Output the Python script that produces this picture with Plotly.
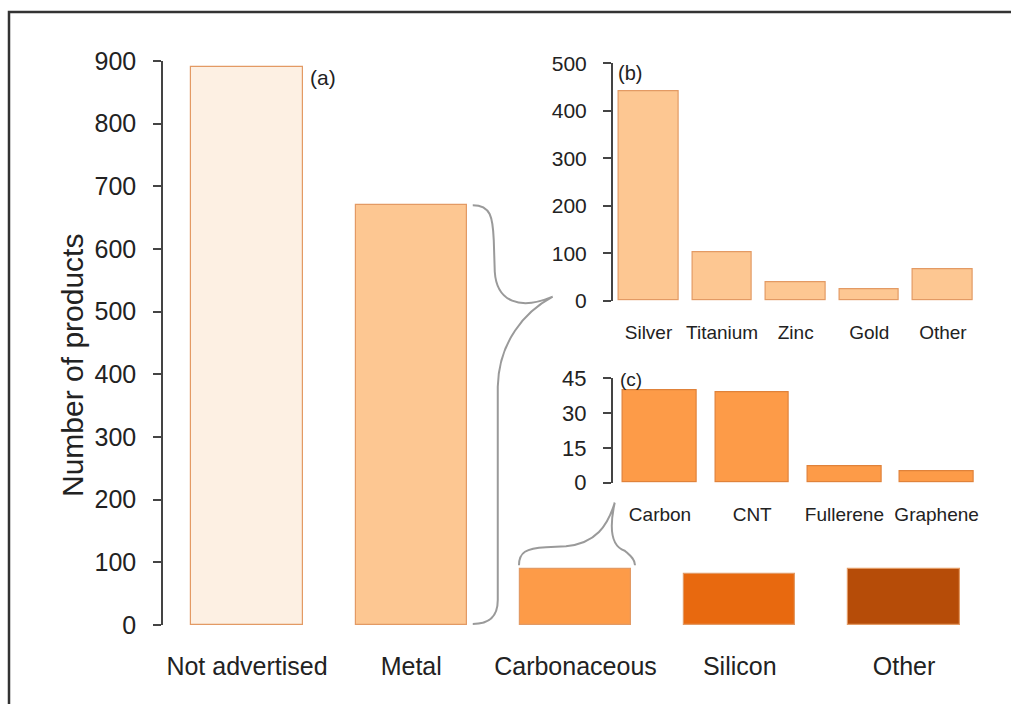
import plotly.graph_objects as go

# ---- data -------------------------------------------------------------
main_categories = ["Not advertised", "Metal", "Carbonaceous", "Silicon", "Other"]
main_counts = [890, 670, 89, 81, 89]
main_colors = ["#fdf0e3", "#fdc792", "#fd9b48", "#e8690f", "#b64c08"]
main_ticks = [0, 100, 200, 300, 400, 500, 600, 700, 800, 900]

metal_categories = ["Silver", "Titanium", "Zinc", "Gold", "Other"]
metal_counts = [440, 102, 38, 24, 67]
metal_ticks = [0, 100, 200, 300, 400, 500]

carbon_categories = ["Carbon", "CNT", "Fullerene", "Graphene"]
carbon_counts = [40, 39, 7, 5]
carbon_ticks = [0, 15, 30, 45]

# ---- page geometry (pixels) ------------------------------------------
W, H = 1011, 704
FONT = "Liberation Sans, Arial, sans-serif"
TEXT = "#222222"
AXIS = "#444444"
EDGE = "#e39a64"
BRACE = "#9a9a9a"


def px(x):
    return x / W


def py(y):
    return 1 - y / H


# panel (a)
A_LEFT, A_RIGHT, A_BOTTOM, A_TOP = 163, 1000, 625, 61
A_FIRST, A_STEP, A_WIDTH = 247, 164.25, 0.676
# panel (b)
B_LEFT, B_RIGHT, B_BOTTOM, B_TOP = 612.7, 990, 300.7, 63.3
B_FIRST, B_STEP, B_WIDTH = 648.5, 73.6, 0.81
# panel (c)
C_LEFT, C_RIGHT, C_BOTTOM, C_TOP = 612.7, 990, 482.7, 378.3
C_FIRST, C_STEP, C_WIDTH = 660, 92.2, 0.80


def a_px(i, v):
    """Pixel position of category index i / value v in panel (a)."""
    x = A_FIRST + i * A_STEP
    y = A_BOTTOM - v / main_ticks[-1] * (A_BOTTOM - A_TOP)
    return x, y


fig = go.Figure()

fig.add_trace(go.Bar(
    x=main_categories, y=main_counts, width=A_WIDTH,
    marker=dict(color=main_colors, line=dict(color=EDGE, width=1.2)),
    xaxis="x", yaxis="y", showlegend=False, hoverinfo="x+y",
))
fig.add_trace(go.Bar(
    x=metal_categories, y=metal_counts, width=B_WIDTH,
    marker=dict(color=main_colors[1], line=dict(color=EDGE, width=1.2)),
    xaxis="x2", yaxis="y2", showlegend=False, hoverinfo="x+y",
))
fig.add_trace(go.Bar(
    x=carbon_categories, y=carbon_counts, width=C_WIDTH,
    marker=dict(color=main_colors[2], line=dict(color="#e0823a", width=1.2)),
    xaxis="x3", yaxis="y3", showlegend=False, hoverinfo="x+y",
))

# outer frame (left and top edges) on a full-page pixel overlay
fig.add_trace(go.Scatter(
    x=[9, 9, W], y=[H, 12, 12], mode="lines",
    line=dict(color="#333333", width=2.5),
    xaxis="x4", yaxis="y4", showlegend=False, hoverinfo="skip",
))


def cat_axis(left, right, first, step, anchor, size, standoff):
    return dict(
        domain=[px(left), px(right)],
        range=[-(first - left) / step, (right - first) / step],
        anchor=anchor, showline=False, showgrid=False, zeroline=False,
        ticks="", tickfont=dict(family=FONT, size=size, color=TEXT),
        ticklabelstandoff=standoff, fixedrange=True, automargin=False,
    )


def val_axis(bottom, top, ticks, anchor, size, standoff):
    return dict(
        domain=[py(bottom), py(top)],
        range=[ticks[0], ticks[-1]], tickvals=ticks,
        anchor=anchor, showline=True, linecolor=AXIS, linewidth=1.5,
        ticks="outside", ticklen=8, tickwidth=1.5, tickcolor=AXIS,
        showgrid=False, zeroline=False,
        tickfont=dict(family=FONT, size=size, color=TEXT),
        ticklabelstandoff=standoff, fixedrange=True, automargin=False,
    )


hidden = dict(visible=False, showgrid=False, zeroline=False, fixedrange=True,
              automargin=False, domain=[0, 1])

# ---- curly braces ------------------------------------------------------
# Metal bar -> panel (b)
mx, my_top = a_px(1 + A_WIDTH / 2, main_counts[1])
_, my_bot = a_px(0, 0)
bx0, by0 = mx + 6, my_top
tipx, tipy = B_LEFT - 60, B_BOTTOM - 4
spine = bx0 + 22
metal_brace = (
    f"M {px(bx0)},{py(by0)} "
    f"C {px(spine - 4)},{py(by0)} {px(spine - 2)},{py(by0 + 12)} {px(spine - 1)},{py(by0 + 35)} "
    f"L {px(spine)},{py(tipy - 25)} "
    f"C {px(spine + 2)},{py(tipy + 5)} {px(spine + 25)},{py(tipy + 14)} {px(tipx)},{py(tipy)} "
    f"M {px(tipx)},{py(tipy)} "
    f"C {px(spine + 30)},{py(tipy + 15)} {px(spine + 4)},{py(tipy + 45)} {px(spine + 3)},{py(tipy + 90)} "
    f"L {px(spine + 3)},{py(my_bot - 25)} "
    f"C {px(spine + 3)},{py(my_bot - 6)} {px(spine - 8)},{py(my_bot - 1)} {px(bx0)},{py(my_bot - 1)}"
)

# Carbonaceous bar -> panel (c)
cl, ctop = a_px(2 - A_WIDTH / 2, main_counts[2])
cr, _ = a_px(2 + A_WIDTH / 2, main_counts[2])
cy = ctop - 4
ctx, cty = C_LEFT + 2, C_BOTTOM + 20
carbon_brace = (
    f"M {px(cl - 1)},{py(cy)} "
    f"C {px(cl - 1)},{py(cy - 13)} {px(cl + 6)},{py(cy - 17)} {px(cl + 26)},{py(cy - 18)} "
    f"L {px(cl + 46)},{py(cy - 19)} "
    f"C {px(cl + 76)},{py(cy - 22)} {px(ctx - 7)},{py(cty + 23)} {px(ctx)},{py(cty)} "
    f"M {px(ctx)},{py(cty)} "
    f"C {px(ctx - 5)},{py(cty + 23)} {px(ctx - 5)},{py(cty + 43)} {px(ctx + 10)},{py(cty + 48)} "
    f"C {px(cr - 2)},{py(cty + 52)} {px(cr + 4)},{py(cty + 56)} {px(cr + 4)},{py(cy)}"
)

shapes = [
    dict(type="path", path=metal_brace, xref="paper", yref="paper",
         line=dict(color=BRACE, width=2)),
    dict(type="path", path=carbon_brace, xref="paper", yref="paper",
         line=dict(color=BRACE, width=2)),
]


def label(text, x, y, size, angle=0):
    return dict(text=text, x=px(x), y=py(y), xref="paper", yref="paper",
                xanchor="center", yanchor="middle", textangle=angle,
                showarrow=False, font=dict(family=FONT, size=size, color=TEXT))


annotations = [
    label("Number of products", 72, 366, 30, -90),
    label("(a)", 323, 77, 21),
    label("(b)", 630, 73, 20),
    label("(c)", 631, 379, 19),
]

fig.update_layout(
    width=W, height=H, margin=dict(l=0, r=0, t=0, b=0, autoexpand=False),
    paper_bgcolor="white", plot_bgcolor="rgba(0,0,0,0)",
    font=dict(family=FONT, color=TEXT),
    xaxis=cat_axis(A_LEFT, A_RIGHT, A_FIRST, A_STEP, "y", 25, 24),
    yaxis=val_axis(A_BOTTOM, A_TOP, main_ticks, "x", 25, 12),
    xaxis2=cat_axis(B_LEFT, B_RIGHT, B_FIRST, B_STEP, "y2", 19, 18),
    yaxis2=val_axis(B_BOTTOM, B_TOP, metal_ticks, "x2", 21, 12),
    xaxis3=cat_axis(C_LEFT, C_RIGHT, C_FIRST, C_STEP, "y3", 19, 18),
    yaxis3=val_axis(C_BOTTOM, C_TOP, carbon_ticks, "x3", 22, 12),
    xaxis4=dict(hidden, range=[0, W], anchor="y4"),
    yaxis4=dict(hidden, range=[H, 0], anchor="x4"),
    shapes=shapes, annotations=annotations, bargap=0,
)

fig.write_html("out.html")
